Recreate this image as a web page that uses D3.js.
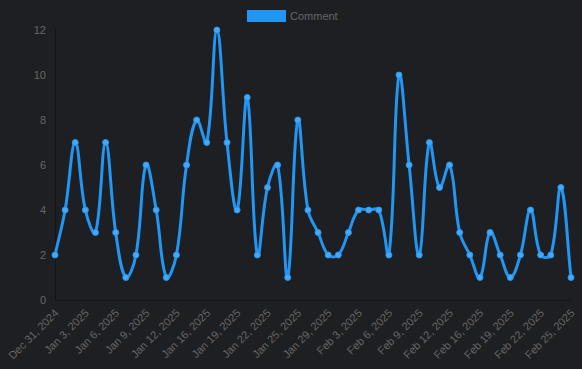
<!DOCTYPE html>
<html><head><meta charset="utf-8">
<script src="https://cdn.jsdelivr.net/npm/d3@7"></script>
<style>
html,body{margin:0;padding:0;background:#1e1f23;}
svg{display:block;font-family:"Liberation Sans",Arial,sans-serif;}
</style></head>
<body>
<svg id="c" width="582" height="369"></svg>
<script>
const dates = ["Dec 31, 2024","Jan 1, 2025","Jan 2, 2025","Jan 3, 2025","Jan 4, 2025","Jan 5, 2025","Jan 6, 2025","Jan 7, 2025","Jan 8, 2025","Jan 9, 2025","Jan 10, 2025","Jan 11, 2025","Jan 12, 2025","Jan 13, 2025","Jan 14, 2025","Jan 16, 2025","Jan 17, 2025","Jan 18, 2025","Jan 19, 2025","Jan 20, 2025","Jan 21, 2025","Jan 22, 2025","Jan 23, 2025","Jan 24, 2025","Jan 25, 2025","Jan 26, 2025","Jan 27, 2025","Jan 29, 2025","Jan 30, 2025","Jan 31, 2025","Feb 3, 2025","Feb 4, 2025","Feb 5, 2025","Feb 6, 2025","Feb 7, 2025","Feb 8, 2025","Feb 9, 2025","Feb 10, 2025","Feb 11, 2025","Feb 12, 2025","Feb 13, 2025","Feb 14, 2025","Feb 16, 2025","Feb 17, 2025","Feb 18, 2025","Feb 19, 2025","Feb 20, 2025","Feb 21, 2025","Feb 22, 2025","Feb 23, 2025","Feb 24, 2025","Feb 25, 2025"];
const comments = [2,4,7,4,3,7,3,1,2,6,4,1,2,6,8,7,12,7,4,9,2,5,6,1,8,4,3,2,2,3,4,4,4,2,10,6,2,7,5,6,3,2,1,3,2,1,2,4,2,2,5,1];
const yTicks = [0,2,4,6,8,10,12];
const seriesName = "Comment";

const svg = d3.select("#c");
const mLeft = 55, mRight = 571, mTop = 30, mBottom = 300;
const x = d3.scalePoint().domain(dates).range([mLeft, mRight]);
const y = d3.scaleLinear().domain([0, 12]).range([mBottom, mTop]);
const tickColor = "#666";
const fontSize = 11;

// Chart.js-like spline curve
function ChartJsCurve(context) { this._context = context; this._t = 0.4; }
ChartJsCurve.prototype = {
  areaStart(){}, areaEnd(){},
  lineStart(){ this._pts = []; },
  point(px, py){ this._pts.push({x:+px, y:+py}); },
  lineEnd(){
    const p = this._pts, n = p.length, t = this._t, ctx = this._context;
    if (!n) return;
    const cap = (v, lo, hi) => Math.max(lo, Math.min(hi, v));
    const cps = p.map((cur, i) => {
      const prev = i > 0 ? p[i-1] : cur;
      const next = i < n-1 ? p[i+1] : cur;
      const d01 = Math.hypot(cur.x-prev.x, cur.y-prev.y);
      const d12 = Math.hypot(next.x-cur.x, next.y-cur.y);
      let s01 = d01/(d01+d12), s12 = d12/(d01+d12);
      if (isNaN(s01)) s01 = 0;
      if (isNaN(s12)) s12 = 0;
      const fa = t*s01, fb = t*s12;
      return {
        px: cap(cur.x - fa*(next.x-prev.x), mLeft, mRight), py: cap(cur.y - fa*(next.y-prev.y), mTop, mBottom),
        nx: cap(cur.x + fb*(next.x-prev.x), mLeft, mRight), ny: cap(cur.y + fb*(next.y-prev.y), mTop, mBottom)
      };
    });
    ctx.moveTo(p[0].x, p[0].y);
    for (let i = 1; i < n; i++) {
      ctx.bezierCurveTo(cps[i-1].nx, cps[i-1].ny, cps[i].px, cps[i].py, p[i].x, p[i].y);
    }
  }
};
const chartJsCurve = ctx => new ChartJsCurve(ctx);

// axis lines
svg.append("line").attr("x1", mLeft + 0.5).attr("x2", mLeft + 0.5).attr("y1", mTop - 2).attr("y2", mBottom)
  .attr("stroke", "#131416").attr("stroke-width", 1);
svg.append("line").attr("x1", mLeft).attr("x2", mRight).attr("y1", mBottom + 0.5).attr("y2", mBottom + 0.5)
  .attr("stroke", "#131416").attr("stroke-width", 1);

// y axis
const yAxis = d3.axisLeft(y).tickValues(yTicks).tickSize(0).tickPadding(9);
const gy = svg.append("g").attr("transform", `translate(${mLeft},0)`).call(yAxis);
gy.select(".domain").remove();
gy.selectAll("text").attr("fill", tickColor).attr("font-size", fontSize)
  .attr("font-family", "'Liberation Sans', Arial, sans-serif");

// x axis
const shown = dates.filter((d, i) => i % 3 === 0);
const xAxis = d3.axisBottom(x).tickValues(shown).tickSize(0).tickPadding(0);
const gx = svg.append("g").attr("transform", `translate(0,${mBottom})`).call(xAxis);
gx.select(".domain").remove();
gx.selectAll(".tick text")
  .attr("fill", tickColor).attr("font-size", fontSize)
  .attr("font-family", "'Liberation Sans', Arial, sans-serif")
  .attr("text-anchor", "end")
  .attr("dy", "0.35em")
  .attr("y", 0).attr("x", 0)
  .attr("transform", "translate(1,11) rotate(-45)");

// line
const line = d3.line().x((d, i) => x(dates[i])).y(d => y(d)).curve(chartJsCurve);
svg.append("path").datum(comments).attr("d", line)
  .attr("fill", "none").attr("stroke", "#2196f3").attr("stroke-width", 3);

svg.append("g").selectAll("circle").data(comments).join("circle")
  .attr("cx", (d, i) => x(dates[i])).attr("cy", d => y(d)).attr("r", 3)
  .attr("fill", "#4aa8f2").attr("stroke", "#2196f3").attr("stroke-width", 1);

// legend
svg.append("rect").attr("x", 247).attr("y", 10).attr("width", 39).attr("height", 12)
  .attr("fill", "#2196f3");
svg.append("text").attr("x", 290).attr("y", 20).text(seriesName)
  .attr("fill", tickColor).attr("font-size", fontSize);
</script>
</body></html>
